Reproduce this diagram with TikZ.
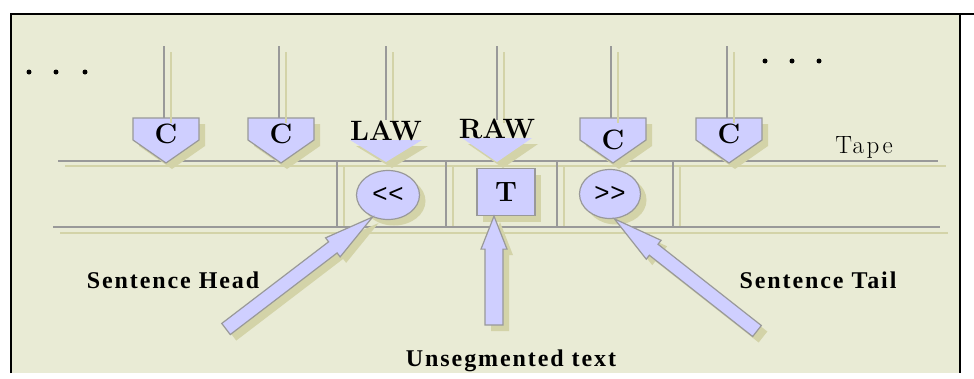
\documentclass[tikz,border=0pt]{standalone}
\usepackage{fontspec}
\usetikzlibrary{calc,shapes.geometric,shadows}

\newfontfamily\lblfont[LetterSpace=8]{Liberation Serif}
\newfontfamily\tapefont[LetterSpace=10]{Latin Modern Roman}
\newfontfamily\markfont{Liberation Sans}

\definecolor{bgc}{HTML}{E9EBD5}
\definecolor{lav}{HTML}{CFCFFF}
\definecolor{gline}{HTML}{999999}
\definecolor{shad}{HTML}{D3D3A8}

\tikzset{
  gl/.style={draw=gline, line width=1.6pt},
  sl/.style={draw=shad, line width=1.8pt},
  shd/.style={drop shadow={shadow xshift=6pt, shadow yshift=-6pt, fill=shad, opacity=1}},
  pent/.style={fill=lav, draw=gline, line width=1.2pt, shd},
  capfont/.style={font=\fontsize{28}{32}\selectfont\bfseries, inner sep=0pt},
  lbl/.style={font=\lblfont\fontsize{24}{27}\selectfont\bfseries, anchor=base, inner sep=0pt},
  cellbox/.style={fill=lav, draw=gline, line width=1.2pt, shd, inner sep=0pt,
    font=\markfont\fontsize{26}{28}\selectfont},
  bigarrow/.style={fill=lav, draw=gline, line width=1.2pt, line join=miter, shd},
}

\begin{document}
\begin{tikzpicture}[x=1pt,y=-1pt]
  \useasboundingbox (0,0) rectangle (974,378);

  % background and frame
  \fill[bgc] (12,15) rectangle (959,373);
  \draw[line width=2pt] (11,373) -- (11,14) -- (974,14);
  \draw[line width=2pt] (960,14) -- (960,373);

  % dots
  \foreach \x in {29,56,85} \fill (\x,72) circle (2.5pt);
  \foreach \x in {765,792,819} \fill (\x,61) circle (2.5pt);

  % tape
  \draw[sl] (65,166) -- (946,166);
  \draw[sl] (60,233) -- (948,233);
  \foreach \x in {337,446,557,673}
    \draw[sl] (\x+7,167) -- (\x+7,228);
  \draw[gl] (58,161) -- (938,161);
  \draw[gl] (53,227) -- (940,227);
  \foreach \x in {337,446,557,673}
    \draw[gl] (\x,161) -- (\x,227);
  \node[font=\tapefont\fontsize{25}{28}\selectfont, anchor=base, inner sep=0pt] (tape) at (864,153) {Tape};

  % C heads
  \foreach \x/\dy [count=\i] in {166/0, 281/0, 613/6, 729/0} {
    \coordinate (feed\i) at (\x-2,46);
    \coordinate (top\i) at (\x-2,118);
    \draw[pent] (\x-33,118) -- (\x+33,118) -- (\x+33,140) -- (\x,163) -- (\x-33,140) -- cycle;
    \draw[gl] (feed\i) -- (top\i);
    \draw[sl] (\x+5,52) -- (\x+5,123);
    \node[capfont] (C\i) at (\x,134+\dy) {C};
  }

  % LAW / RAW heads
  \foreach \x/\w/\ty/\tb/\txt in {386/36/131/140/LAW, 497/35/129/138/RAW} {
    \draw[sl] (\x+7,52) -- (\x+7,123);
    \draw[gl] (\x,46) -- (\x,120);
    \fill[lav, shd] (\x-\w,\tb) -- (\x+\w,\tb) -- (\x,162) -- cycle;
    \node[capfont] (\txt) at (\x,\ty) {\txt};
  }

  % cells
  \node[cellbox, ellipse, minimum width=63pt, minimum height=49pt] (head) at (388,195) {<\kern1pt<};
  \node[cellbox, ellipse, minimum width=61pt, minimum height=49pt] (tail) at (610,194) {>\kern1pt>};
  \node[cellbox, rectangle, minimum width=58pt, minimum height=47pt,
    font=\fontsize{28}{32}\selectfont\bfseries] (txt) at (506,192) {T};

  % block arrows
  \coordinate (hTail) at (226,329);
  \coordinate (uTail) at (494,325);
  \coordinate (tTail) at (757,331);
  \coordinate (uTip) at ($(txt.south)+(-12,0)$);
  \foreach \tl/\tp/\sw/\hw/\hl in {hTail/head.235/7/12/50, uTail/uTip/9/13/33, tTail/tail.280/7/12/50} {
    \coordinate (b) at ($(\tp)!\hl pt!(\tl)$);
    \draw[bigarrow] ($(\tl)!\sw pt!90:(\tp)$) -- ($(b)!\sw pt!90:(\tp)$)
      -- ($(b)!\hw pt!90:(\tp)$) -- (\tp) -- ($(b)!\hw pt!-90:(\tp)$)
      -- ($(b)!\sw pt!-90:(\tp)$) -- ($(\tl)!\sw pt!-90:(\tp)$) -- cycle;
  }

  % labels
  \node[lbl] (headLbl) at (173,288) {Sentence Head};
  \node[lbl] (tailLbl) at (818,288) {Sentence Tail};
  \node[lbl] (unsegLbl) at (511,366) {Unsegmented text};
\end{tikzpicture}
\end{document}
